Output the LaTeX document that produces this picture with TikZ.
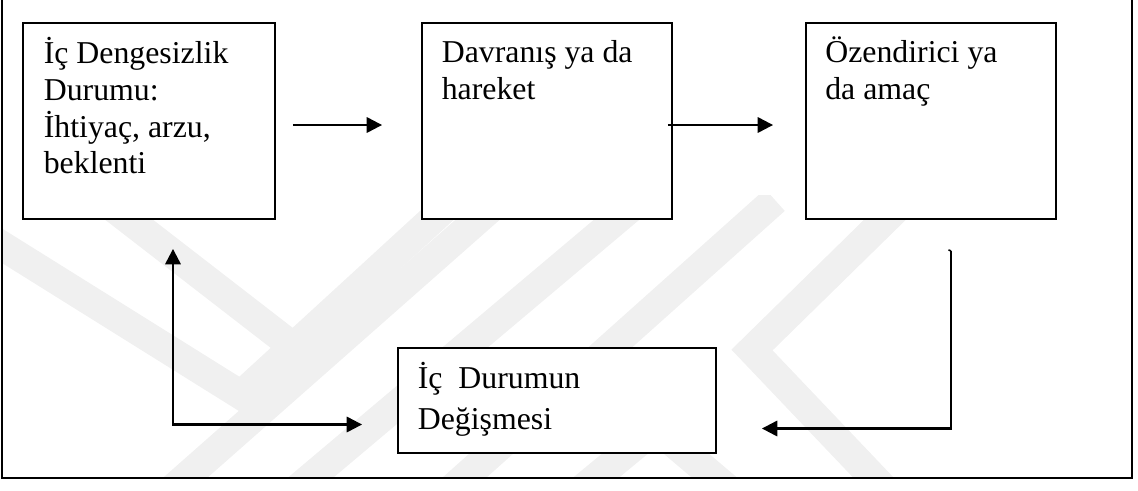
\documentclass[tikz,border=0pt]{standalone}
\usepackage{fontspec}
\setmainfont{Liberation Serif}
\usetikzlibrary{arrows.meta,fit,calc}
\begin{document}
\begin{tikzpicture}[x=0.75pt,y=-0.75pt,
  box/.style={draw=black, line width=1.4pt, fill=white, inner sep=0pt, rectangle},
  txt/.style={anchor=base west, inner sep=0pt, font=\fontsize{23.85}{27}\selectfont},
  conn/.style={draw=black, line width=1.7pt, -{Triangle[length=11.5pt,width=11.5pt]}},
  conntwo/.style={draw=black, line width=1.7pt, {Triangle[length=11.5pt,width=11.5pt]}-{Triangle[length=11.5pt,width=11.5pt]}},
  frame/.style={draw=black, line width=2pt},
  wm/.style={draw=black!6, line width=22pt, line join=miter}]
\useasboundingbox (0,0) rectangle (1138,490);
% watermark
\begin{scope}
\clip (2,195) rectangle (1132,478);
\draw[wm] (-20,232) -- (241,395) -- (470,185);
\draw[wm] (110,205) -- (300,352);
\draw[wm] (160,500) -- (500,200);
\draw[wm] (290,495) -- (640,200);
\draw[wm] (445,495) -- (775,200);
\draw[wm] (900,205) -- (752,350) -- (890,495);
\draw[wm] (575,495) -- (656,428) -- (735,495);
\end{scope}
% outer frame
\draw[frame] (2,-5) -- (2,478) -- (1132,478) -- (1132,-5);
% boxes
\coordinate (b1nw) at (23,23);  \coordinate (b1se) at (275,219);
\coordinate (b2nw) at (422,23); \coordinate (b2se) at (672,219);
\coordinate (b3nw) at (806,23); \coordinate (b3se) at (1056,219);
\coordinate (b4nw) at (398,348); \coordinate (b4se) at (716,453);
\node[box, fit=(b1nw)(b1se)] (b1) {};
\node[box, fit=(b2nw)(b2se)] (b2) {};
\node[box, fit=(b3nw)(b3se)] (b3) {};
\node[box, fit=(b4nw)(b4se)] (b4) {};
% texts
\node[txt] (t1a) at ($(b1.north west)+(21.5,41)$) {İç Dengesizlik};
\node[txt] (t1b) at ($(b1.north west)+(21.5,78)$) {Durumu:};
\node[txt] (t1c) at ($(b1.north west)+(21.5,115)$) {İhtiyaç, arzu,};
\node[txt] (t1d) at ($(b1.north west)+(21.5,151.5)$) {beklenti};
\node[txt] (t2a) at ($(b2.north west)+(20.5,40.5)$) {Davranış ya da};
\node[txt] (t2b) at ($(b2.north west)+(20.5,77)$) {hareket};
\node[txt] (t3a) at ($(b3.north west)+(20,40.5)$) {Özendirici ya};
\node[txt] (t3b) at ($(b3.north west)+(20,77)$) {da amaç};
\node[txt] (t4a) at ($(b4.north west)+(20.5,41)$) {İç\ \ Durumun};
\node[txt] (t4b) at ($(b4.north west)+(20.5,82.5)$) {Değişmesi};
% connectors
\coordinate (a1s) at ($(b1.east)+(17,4)$);
\coordinate (a1e) at ($(b2.west)+(-39,4)$);
\draw[conn] (a1s) -- (a1e);
\coordinate (a2s) at ($(b2.east)+(-5,4)$);
\coordinate (a2e) at ($(b3.west)+(-32,4)$);
\draw[conn] (a2s) -- (a2e);
\coordinate (a3s) at ($(b3.south)+(20,31)$);
\coordinate (a3e) at ($(b4.east)+(45,28)$);
\draw[conn] (a3s) |- (a3e);
\draw[draw=black, line width=1.2pt] (a3s) -- ++(-2.5,-1);
\coordinate (a4u) at ($(b1.south)+(24,29)$);
\coordinate (a4r) at ($(b4.west)+(-35,24)$);
\draw[conntwo] (a4u) |- (a4r);
\end{tikzpicture}
\end{document}
